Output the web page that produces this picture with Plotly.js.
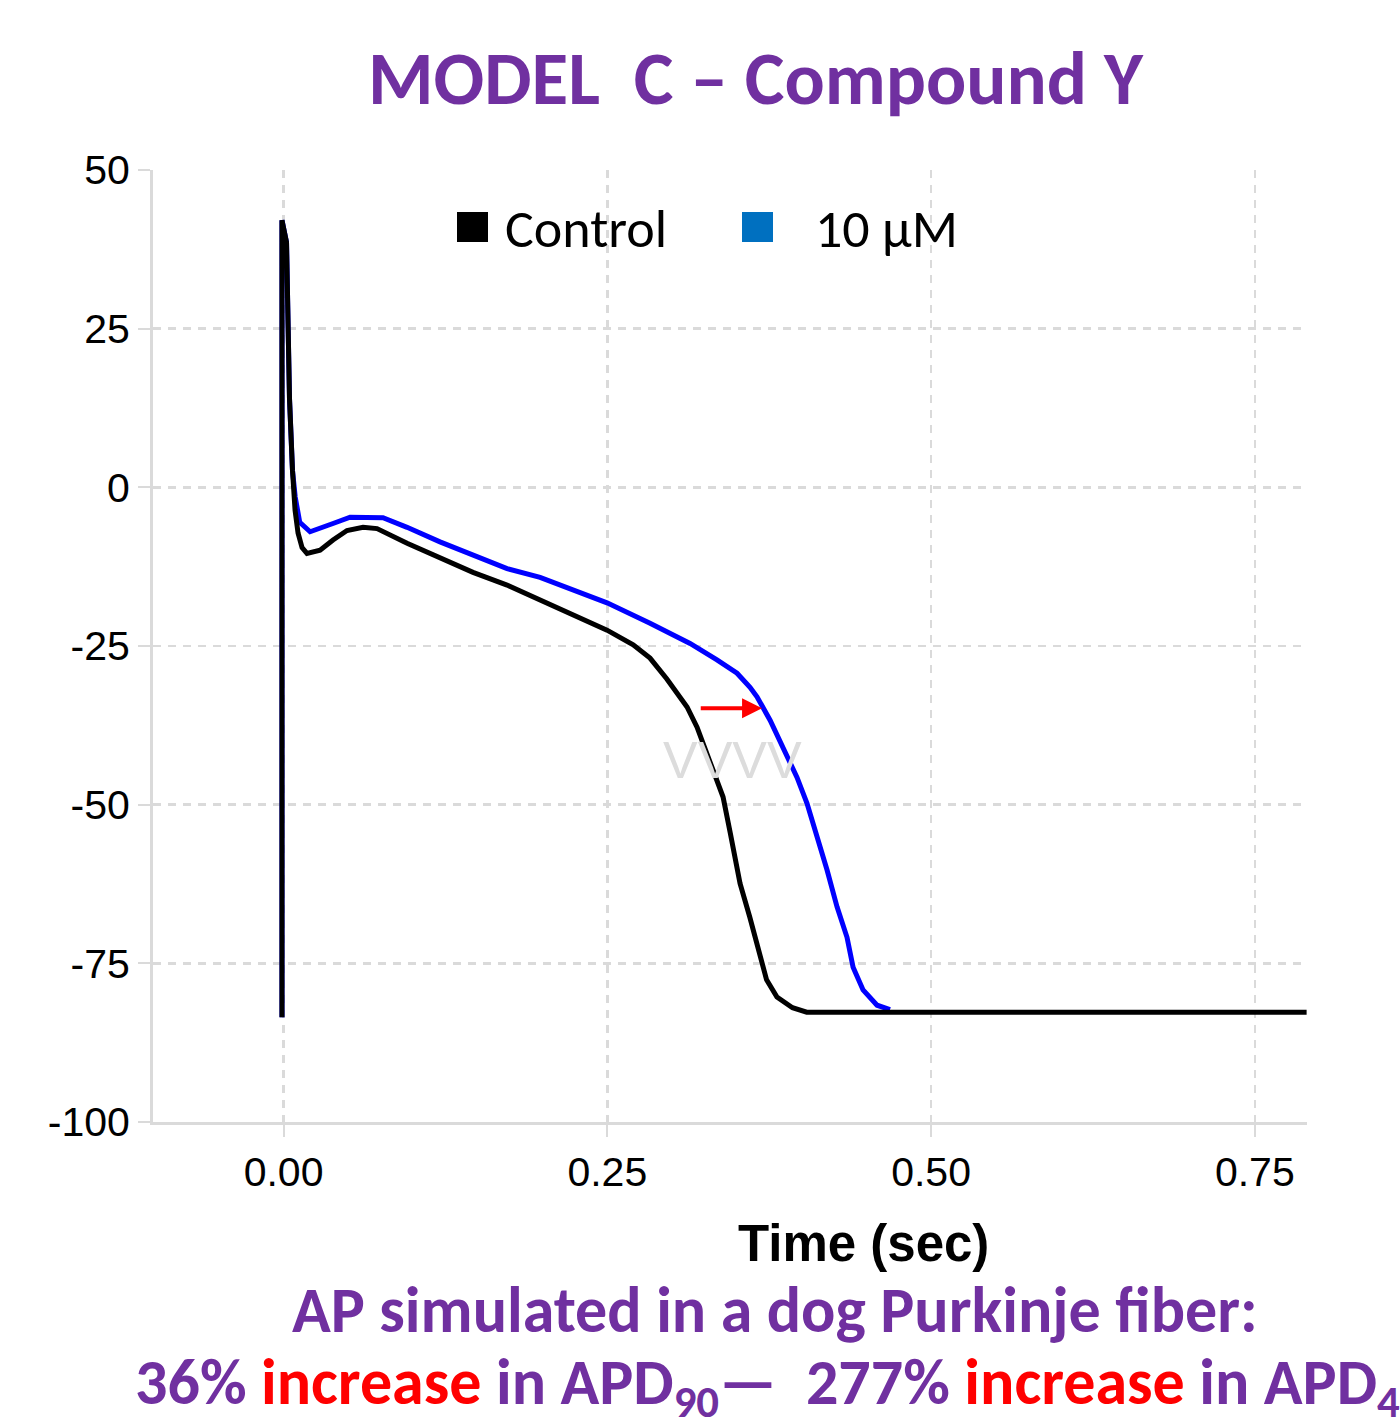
<!DOCTYPE html>
<html>
<head>
<meta charset="utf-8">
<script src="https://cdn.plot.ly/plotly-3.0.1.min.js"></script>
<style>html,body{margin:0;padding:0;background:#fff;}</style>
</head>
<body>
<div id="chart" style="width:1400px;height:1418px;"></div>
<script>
// Control (black) action potential: time (s) and voltage (mV)
const controlTime = [-0.0012, -0.0012, 0.0023, 0.0046, 0.0069, 0.0089, 0.0112, 0.0143, 0.0181, 0.0282, 0.0382, 0.049, 0.0614, 0.0722, 0.0954, 0.1208, 0.1463, 0.1726, 0.1981, 0.2236, 0.2498, 0.270, 0.283, 0.296, 0.3039, 0.3116, 0.3193, 0.3239, 0.3293, 0.3394, 0.345, 0.3525, 0.360, 0.368, 0.373, 0.381, 0.393, 0.404, 0.79];
const controlVolt = [-83.5, 42.1, 38.6, 14, 2.7, -3.6, -7.2, -9.5, -10.4, -9.9, -8.3, -6.8, -6.3, -6.5, -8.8, -11.2, -13.4, -15.4, -17.8, -20.2, -22.5, -24.8, -26.9, -30.2, -32.4, -34.6, -37.8, -40.3, -43.5, -48.8, -54.5, -62.4, -67.7, -74, -77.6, -80.3, -82, -82.7, -82.7];

// 10 µM (blue) action potential
const drugTime = [-0.0012, -0.0012, 0.0023, 0.0046, 0.0069, 0.009, 0.0125, 0.0205, 0.0382, 0.0514, 0.0768, 0.0954, 0.1208, 0.1463, 0.1726, 0.1981, 0.2236, 0.2498, 0.283, 0.3139, 0.3347, 0.3502, 0.3602, 0.3656, 0.3757, 0.3857, 0.3965, 0.4042, 0.4089, 0.4143, 0.4197, 0.4274, 0.4351, 0.4398, 0.4475, 0.4583, 0.4683];
const drugVolt = [-83.5, 42.1, 38.6, 14, 2.7, -1.5, -5.5, -7.0, -5.7, -4.7, -4.8, -6.3, -8.6, -10.7, -12.8, -14.2, -16.2, -18.2, -21.4, -24.6, -27.2, -29.3, -31.5, -33, -36.7, -41, -45.7, -49.8, -52.9, -56.7, -60.3, -66.1, -70.9, -75.6, -79.2, -81.6, -82.3];

const xTicks = [0, 0.25, 0.5, 0.75];
const xTickLabels = ["0.00", "0.25", "0.50", "0.75"];
const yTicks = [50, 25, 0, -25, -50, -75, -100];
const yTickLabels = ["50", "25", "0", "-25", "-50", "-75", "-100"];
const seriesNames = ["Control", "10 µM"];
const arrowFrom = [0.321, -34.8];
const arrowTo = [0.3695, -34.8];

const purple = "#7030A0";
const textFont = "Carlito, Calibri, Lato, 'Open Sans', sans-serif";

const traces = [
  {x: drugTime, y: drugVolt, mode: "lines", name: seriesNames[1], showlegend: false,
   line: {color: "#0000FF", width: 5}},
  {x: controlTime, y: controlVolt, mode: "lines", name: seriesNames[0], showlegend: false,
   line: {color: "#000000", width: 5}}
];

const gridColor = "#dadada";
const px = v => (v - 153) / 1154;      // page x -> paper x
const py = v => (1122 - v) / 952;      // page y -> paper y

const layout = {
  width: 1400, height: 1418,
  margin: {l: 153, r: 93, t: 170, b: 296},
  paper_bgcolor: "#ffffff", plot_bgcolor: "#ffffff",
  showlegend: false,
  xaxis: {
    range: [-0.1008, 0.7903], tickvals: xTicks, ticktext: xTickLabels,
    showgrid: true, gridcolor: gridColor, gridwidth: 2.5, griddash: "8px,7px",
    zeroline: false, showline: true, linecolor: gridColor, linewidth: 3,
    ticks: "outside", ticklen: 12, tickwidth: 2, tickcolor: gridColor,
    tickfont: {family: "'Liberation Sans', Arial, sans-serif", size: 41, color: "#000"}
  },
  yaxis: {
    range: [-100, 50], tickvals: yTicks, ticktext: yTickLabels,
    showgrid: true, gridcolor: gridColor, gridwidth: 2.5, griddash: "8px,7px",
    zeroline: false, showline: true, linecolor: gridColor, linewidth: 3,
    ticks: "outside", ticklen: 12, tickwidth: 2, tickcolor: gridColor,
    tickfont: {family: "'Liberation Sans', Arial, sans-serif", size: 41, color: "#000"}
  },
  shapes: [
    {type: "rect", xref: "paper", yref: "paper", x0: px(457), x1: px(488),
     y0: py(242), y1: py(212), fillcolor: "#000000", line: {width: 0}},
    {type: "rect", xref: "paper", yref: "paper", x0: px(742), x1: px(773),
     y0: py(242), y1: py(212), fillcolor: "#0070C0", line: {width: 0}}
  ],
  annotations: [
    {text: "<b>MODEL  C – Compound Y</b>", xref: "paper", yref: "paper",
     x: px(756), y: py(79), xanchor: "center", yanchor: "middle", showarrow: false,
     font: {family: textFont, size: 75, color: purple}},
    {text: seriesNames[0], xref: "paper", yref: "paper",
     x: px(503), y: py(229), xanchor: "left", yanchor: "middle", showarrow: false,
     font: {family: textFont, size: 54, color: "#000"}},
    {text: seriesNames[1], xref: "paper", yref: "paper",
     x: px(813), y: py(229), xanchor: "left", yanchor: "middle", showarrow: false,
     font: {family: textFont, size: 54, color: "#000"}},
    {text: "<b>Time (sec)</b>", xref: "paper", yref: "paper",
     x: px(863), y: py(1243), xanchor: "center", yanchor: "middle", showarrow: false,
     font: {family: "'Liberation Sans', Arial, sans-serif", size: 51, color: "#000"}},
    {text: "<b>AP simulated in a dog Purkinje fiber:</b>", xref: "paper", yref: "paper",
     x: px(775), y: py(1310), xanchor: "center", yanchor: "middle", showarrow: false,
     font: {family: textFont, size: 64, color: purple}},
    {text: "<b>36% <span style='color:#FF0000'>increase</span> in APD<sub>90</sub>—  277% <span style='color:#FF0000'>increase</span> in APD<sub>40</sub></b>",
     xref: "paper", yref: "paper",
     x: px(133), y: py(1386), xanchor: "left", yanchor: "middle", showarrow: false,
     font: {family: textFont, size: 64, color: purple}},
    {text: "VVVV", xref: "x", yref: "y", x: 0.347, y: -43, xanchor: "center", yanchor: "middle",
     showarrow: false, font: {family: "'Liberation Sans', Arial, sans-serif", size: 52, color: "#dcdcdc"}},
    {text: "", xref: "x", yref: "y", axref: "x", ayref: "y",
     x: arrowTo[0], y: arrowTo[1], ax: arrowFrom[0], ay: arrowFrom[1],
     showarrow: true, arrowhead: 2, arrowsize: 1, arrowwidth: 4, arrowcolor: "#FF0000", standoff: 0}
  ]
};

Plotly.newPlot("chart", traces, layout, {displayModeBar: false, staticPlot: true});
</script>
</body>
</html>
